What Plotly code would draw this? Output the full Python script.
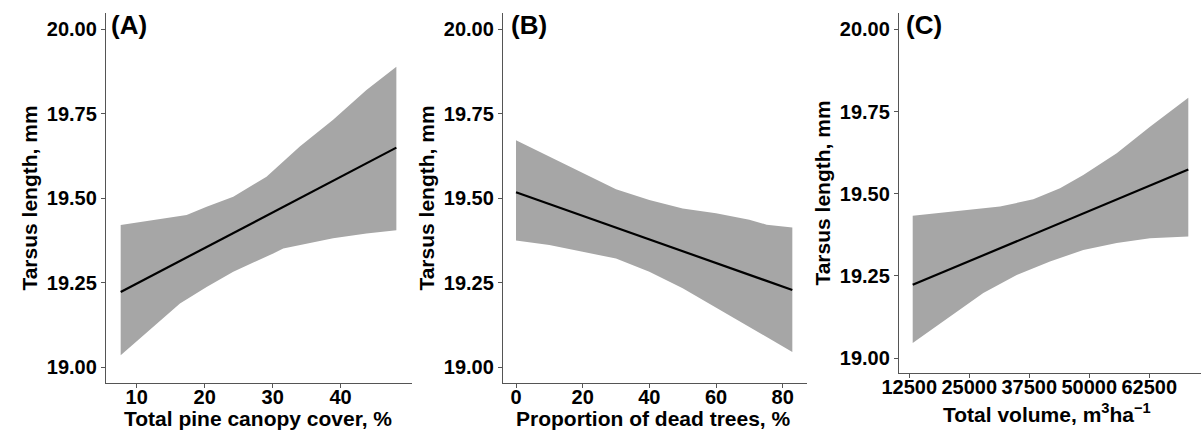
import plotly.graph_objects as go

# ---------------- data ----------------
# Panel A: total pine canopy cover (%)
a_line_x = [7.65, 48.2]
a_line_y = [19.223, 19.650]
a_up_x = [7.65, 14.41, 17.35, 20.29, 24.21, 29.1, 34.0, 38.9, 43.8, 48.2]
a_up_y = [19.421, 19.441, 19.451, 19.475, 19.505, 19.564, 19.653, 19.732, 19.820, 19.889]
a_lo_x = [7.65, 11.96, 16.37, 20.29, 24.21, 30.09, 31.56, 38.9, 43.8, 48.2]
a_lo_y = [19.036, 19.112, 19.189, 19.238, 19.283, 19.337, 19.352, 19.382, 19.396, 19.406]

# Panel B: proportion of dead trees (%)
b_line_x = [0, 82.9]
b_line_y = [19.518, 19.229]
b_up_x = [0, 10, 20, 30, 40, 50, 60, 70, 75.2, 82.9]
b_up_y = [19.672, 19.623, 19.574, 19.527, 19.495, 19.470, 19.456, 19.437, 19.422, 19.414]
b_lo_x = [0, 10, 20, 30, 40, 50, 60, 70, 82.9]
b_lo_y = [19.375, 19.362, 19.342, 19.322, 19.283, 19.234, 19.179, 19.120, 19.046]

# Panel C: total volume (m3/ha)
c_line_x = [13208, 70625]
c_line_y = [19.223, 19.574]
c_up_x = [13208, 24458, 31396, 38333, 43896, 48750, 55708, 62646, 70625]
c_up_y = [19.433, 19.451, 19.461, 19.483, 19.517, 19.557, 19.623, 19.704, 19.792]
c_lo_x = [13208, 20979, 27917, 34875, 41812, 48750, 55708, 62646, 70625]
c_lo_y = [19.046, 19.127, 19.198, 19.253, 19.294, 19.329, 19.350, 19.365, 19.370]

y_ticks = [19.00, 19.25, 19.50, 19.75, 20.00]
y_ticktext = ["19.00", "19.25", "19.50", "19.75", "20.00"]
a_xticks = [10, 20, 30, 40]
b_xticks = [0, 20, 40, 60, 80]
c_xticks = [12500, 25000, 37500, 50000, 62500]

panel_labels = ["(A)", "(B)", "(C)"]
x_titles = ["Total pine canopy cover, %", "Proportion of dead trees, %",
            "Total volume, m<sup>3</sup>ha<sup>\u22121</sup>"]
y_title = "Tarsus length, mm"

# ---------------- figure ----------------
FILL = "#a6a6a6"
FONT = "Liberation Sans"
W, H = 1201, 433
fig = go.Figure()

panels = [
    (a_line_x, a_line_y, a_up_x, a_up_y, a_lo_x, a_lo_y, "x", "y"),
    (b_line_x, b_line_y, b_up_x, b_up_y, b_lo_x, b_lo_y, "x2", "y2"),
    (c_line_x, c_line_y, c_up_x, c_up_y, c_lo_x, c_lo_y, "x3", "y3"),
]
for lx, ly, ux, uy, lox, loy, xa, ya in panels:
    fig.add_trace(go.Scatter(
        x=list(ux) + list(lox)[::-1], y=list(uy) + list(loy)[::-1],
        fill="toself", fillcolor=FILL, line=dict(width=0, color=FILL),
        mode="lines", hoverinfo="skip", showlegend=False, xaxis=xa, yaxis=ya))
    fig.add_trace(go.Scatter(
        x=lx, y=ly, mode="lines", line=dict(color="black", width=2.2),
        showlegend=False, xaxis=xa, yaxis=ya))

tickfont = dict(family=FONT, size=20, color="black", weight="bold")
titlefont = dict(family=FONT, size=21, color="black", weight="bold")

common_axis = dict(showline=True, linecolor="#555555", linewidth=1.3,
                   ticks="outside", ticklen=4, tickcolor="#555555", tickwidth=1,
                   showgrid=False, zeroline=False, tickfont=tickfont,
                   automargin=False, tickangle=0)

domains_x = [[106 / W, 412 / W], [503 / W, 807 / W], [899 / W, 1.0]]
domains_y = [[1 - 383 / H, 1 - 13 / H], [1 - 383 / H, 1 - 13 / H],
             [1 - 373 / H, 1 - 13 / H]]
x_ranges = [[5.49, 50.5], [-3.9, 87.3], [10354, 73270]]
y_ranges = [[18.954, 20.048], [18.954, 20.048], [18.955, 20.0495]]
x_tickvals = [a_xticks, b_xticks, c_xticks]

layout = dict(width=W, height=H, margin=dict(l=0, r=0, t=0, b=0),
              plot_bgcolor="white", paper_bgcolor="white", template="none")
for i in range(3):
    sx = "xaxis" if i == 0 else f"xaxis{i+1}"
    sy = "yaxis" if i == 0 else f"yaxis{i+1}"
    layout[sx] = dict(common_axis, domain=domains_x[i], range=x_ranges[i],
                      tickvals=x_tickvals[i], ticktext=[str(v) for v in x_tickvals[i]],
                      ticklabelstandoff=-8,
                      anchor="y" if i == 0 else f"y{i+1}")
    layout[sy] = dict(common_axis, domain=domains_y[i], range=y_ranges[i],
                      tickvals=y_ticks, ticktext=y_ticktext,
                      anchor="x" if i == 0 else f"x{i+1}",
                      title=dict(text=y_title, font=titlefont, standoff=3))
fig.update_layout(**layout)

# x-axis titles (placed tightly under the tick labels, as in the reference)
x_title_cx = [258, 654, 1047]
x_title_cy = [418, 418, 413]
for i, t in enumerate(x_titles):
    fig.add_annotation(text=t, xref="paper", yref="paper",
                       x=x_title_cx[i] / W, y=1 - x_title_cy[i] / H,
                       xanchor="center", yanchor="middle", showarrow=False,
                       font=titlefont)

label_x = [109, 509, 904]
for i, lab in enumerate(panel_labels):
    fig.add_annotation(text=lab, xref="paper", yref="paper",
                       x=label_x[i] / W, y=1 - 25 / H,
                       xanchor="left", yanchor="middle", showarrow=False,
                       font=dict(family=FONT, size=26, color="black", weight="bold"))

fig.write_html("out.html")
